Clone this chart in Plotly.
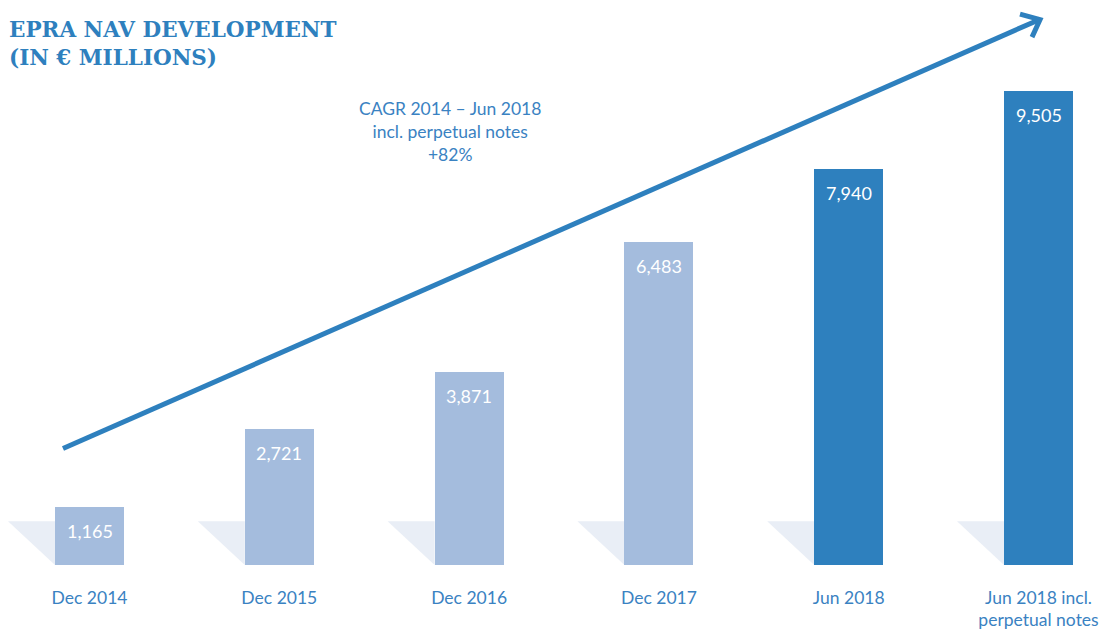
import plotly.graph_objects as go

# EPRA NAV in EUR millions
periods = ["Dec 2014", "Dec 2015", "Dec 2016", "Dec 2017", "Jun 2018",
           "Jun 2018 incl.<br>perpetual notes"]
nav_values = [1165, 2721, 3871, 6483, 7940, 9505]
highlight = [False, False, False, False, True, True]

BLUE = "#2e80be"
LIGHT = "#a4bcdd"
SHADOW = "#e9eef6"
TEXT_BLUE = "#3a82c2"

W, H = 1104, 630
PLOT_TOP, PLOT_BOTTOM = 66, 567
X0, X1 = -0.4716, 5.345
BAR_W = 0.3635
Y_MAX = 10000

fig = go.Figure()

xs = list(range(len(periods)))
fig.add_trace(go.Bar(
    x=xs, y=nav_values, width=BAR_W,
    marker=dict(color=[BLUE if h else LIGHT for h in highlight], line=dict(width=0)),
    hoverinfo="skip", showlegend=False,
))

# value labels near the top of each bar
for i, v in enumerate(nav_values):
    fig.add_annotation(x=i, y=v, xref="x", yref="y", text=f"{v:,}",
                       showarrow=False, yanchor="middle", yshift=-24,
                       font=dict(family="Lato", size=18, color="white"))

# pale triangular shadows to the left of each bar base
px_per_x = W / (X1 - X0)
shadow_w = 47 / px_per_x
shadow_h = 44 / (PLOT_BOTTOM - PLOT_TOP) * Y_MAX
shapes = []
for i in xs:
    left = i - BAR_W / 2
    shapes.append(dict(
        type="path", xref="x", yref="y", layer="below",
        path=f"M {left - shadow_w},{shadow_h} L {left},{shadow_h} L {left},0 Z",
        fillcolor=SHADOW, line=dict(width=0),
    ))


def px(x):
    return x / W


def py(y):
    return (PLOT_BOTTOM - y) / (PLOT_BOTTOM - PLOT_TOP)


# growth arrow
shapes.append(dict(type="line", xref="paper", yref="paper",
                   x0=px(63), y0=py(450), x1=px(1038), y1=py(20),
                   line=dict(color=BLUE, width=5)))
shapes.append(dict(type="path", xref="paper", yref="paper",
                   path=f"M {px(1020)},{py(14)} L {px(1040)},{py(19.5)} L {px(1032)},{py(37)}",
                   line=dict(color=BLUE, width=5)))

fig.add_annotation(xref="paper", yref="paper", x=px(7), y=py(15),
                   xanchor="left", yanchor="top", align="left", showarrow=False,
                   text="<b>EPRA NAV DEVELOPMENT<br>(IN € MILLIONS)</b>",
                   font=dict(family="DejaVu Serif", size=21.5, color=BLUE))

fig.add_annotation(xref="paper", yref="paper", x=px(450), y=py(96),
                   xanchor="center", yanchor="top", align="center", showarrow=False,
                   text="CAGR 2014 – Jun 2018<br>incl. perpetual notes<br>+82%",
                   font=dict(family="Lato", size=17.5, color=TEXT_BLUE))

fig.update_layout(
    width=W, height=H,
    margin=dict(l=0, r=0, t=PLOT_TOP, b=H - PLOT_BOTTOM),
    paper_bgcolor="white", plot_bgcolor="white",
    shapes=shapes,
    xaxis=dict(range=[X0, X1], tickvals=xs, ticktext=periods,
               showgrid=False, zeroline=False, showline=False, ticks="",
               ticklabelstandoff=20,
               tickfont=dict(family="Lato", size=17.5, color=TEXT_BLUE)),
    yaxis=dict(range=[0, Y_MAX], visible=False, showgrid=False, zeroline=False),
    bargap=0,
)

fig.write_html("out.html")
